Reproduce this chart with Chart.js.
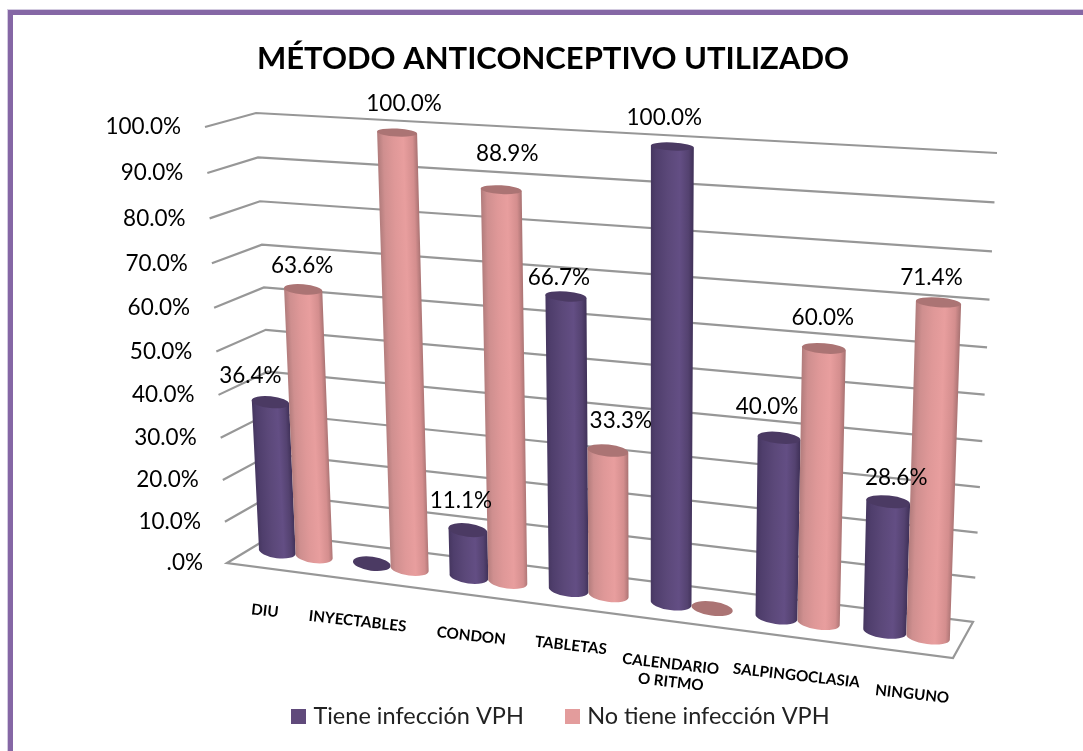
<!DOCTYPE html>
<html>
<head>
<meta charset="utf-8">
<style>html,body{margin:0;padding:0;background:#fff;overflow:hidden}#wrap{position:absolute;left:0;top:0;width:1083px;height:751px}</style>
<script src="https://cdn.jsdelivr.net/npm/chart.js@4/dist/chart.umd.min.js"></script>
</head>
<body>
<div id="wrap"><canvas id="c" width="1083" height="751"></canvas></div>
<script>
const categories = ["DIU","INYECTABLES","CONDON","TABLETAS",["CALENDARIO","O RITMO"],"SALPINGOCLASIA","NINGUNO"];
const seriesNames = ["Tiene infección VPH","No tiene infección VPH"];
const tieneVPH = [36.4,0,11.1,66.7,100,40,28.6];
const noTieneVPH = [63.6,100,88.9,33.3,0,60,71.4];
const yTickStep = 10;

/* layout of the perspective drawing (not data) */
const FONT = 'Lato, "Open Sans", sans-serif';
const persp = 0.1, vBow = 0.06;
const wall = {
  frontL:[[227,563],[205,127]], backL:[[275,534],[256,113]],
  backR:[[973,622],[997,153]], frontR0:[953,658]
};
const barPlane = { base:[[249,547.5],[962,641.5]], top:[[228,124],[978.5,162]] };
const catNudge = [[-14,41],[-25,38],[-15,39],[-19,35],[-23,40],[-1,38],[11,43]];
const labelNudge = [
  [[-20,-26],[-1,-24]],[[0,0],[7,-29]],[[-7,-29],[6,-36]],[[-7,-19],[13,-30]],
  [[-8,-29],[0,0]],[[-12,-31],[-1,-31]],[[8,-24],[-7,-25]]
];
const ramps = {
  "#604a7b":{stops:[[0,"#45365f"],[.12,"#4f3e6c"],[.4,"#5b4879"],[.68,"#634e84"],[.88,"#544270"],[1,"#3f3057"]],cap:"#4b3a63"},
  "#e39c9c":{stops:[[0,"#b07b7b"],[.15,"#cf8f8f"],[.4,"#df9898"],[.65,"#e89e9e"],[.88,"#d48e8e"],[1,"#a87272"]],cap:"#ab7474"}
};

const lerp=(a,b,t)=>a+(b-a)*t;
const lerpP=(p,q,t)=>[lerp(p[0],q[0],t),lerp(p[1],q[1],t)];
const warpU=u=>u/(1+persp*(1-u));
const bowV=v=>v-vBow*v*(1-v);
function planePoint(u,v){
  const w=warpU(u), f=bowV(v);
  const b=lerpP(barPlane.base[0],barPlane.base[1],w), t=lerpP(barPlane.top[0],barPlane.top[1],w);
  return lerpP(b,t,f);
}
const wallPoint=(edge,v)=>lerpP(edge[0],edge[1],bowV(v));
function toUV(chart,px,py){
  const xs=chart.scales.x, ys=chart.scales.y;
  return [(px-xs.left)/xs.width,(ys.bottom-py)/(ys.bottom-ys.top)];
}

Chart.BarElement.prototype.draw=function(ctx){
  const chart=Chart.getChart(ctx.canvas);
  const [u,v]=toUV(chart,this.x,this.y);
  const du=this.width/chart.scales.x.width/2;
  const ramp=ramps[this.options.backgroundColor];
  const ring=(vv,ry)=>{
    const L=planePoint(u-du,vv),R=planePoint(u+du,vv),C=planePoint(u,vv);
    return {L,R,C,rx:Math.hypot(R[0]-L[0],R[1]-L[1])/2,ry,ang:Math.atan2(R[1]-L[1],R[0]-L[0])};
  };
  const B=ring(0,7), T=ring(v,lerp(7,4,v));
  ctx.save();
  if(v>0.001){
    const s=(T.C[0]-B.C[0])/(T.C[1]-B.C[1]), y0=B.C[1];
    ctx.transform(1,0,s,1,-s*y0,0);
    const un=p=>[p[0]-s*(p[1]-y0),p[1]];
    const r=Math.max(B.rx,T.rx);
    const g=ctx.createLinearGradient(B.C[0]-r,0,B.C[0]+r,0);
    ramp.stops.forEach(st=>g.addColorStop(st[0],st[1]));
    const tl=un(T.L),tr=un(T.R),bl=un(B.L),bc=un(B.C),tc=un(T.C);
    ctx.beginPath();
    ctx.moveTo(tl[0],tl[1]);
    ctx.lineTo(bl[0],bl[1]);
    ctx.ellipse(bc[0],bc[1],B.rx,B.ry,B.ang,Math.PI,0,true);
    ctx.lineTo(tr[0],tr[1]);
    ctx.closePath();
    ctx.fillStyle=g; ctx.fill();
    ctx.beginPath();
    ctx.ellipse(tc[0],tc[1],T.rx,T.ry,T.ang,0,Math.PI*2);
    ctx.fillStyle=ramp.cap; ctx.fill();
  } else {
    ctx.beginPath();
    ctx.ellipse(B.C[0],B.C[1],B.rx,B.ry,B.ang,0,Math.PI*2);
    ctx.fillStyle=ramp.cap; ctx.fill();
  }
  ctx.restore();
};

function swatch(color){
  const s=document.createElement('canvas'); s.width=15; s.height=15;
  const g=s.getContext('2d'); g.fillStyle=color; g.fillRect(0,0,15,15);
  return s;
}

const scene={
  id:'scene',
  afterLayout(chart){
    const t=chart.titleBlock,l=chart.legend;
    const tc=(t.left+t.right)/2; t.left+=553-tc; t.right+=553-tc; t.top=3;
    const lc=(l.left+l.right)/2, h=l.bottom-l.top;
    l.left+=562.4-lc; l.right+=562.4-lc; l.top=660; l.bottom=660+h;
  },
  beforeDraw(chart){
    const c=chart.ctx;
    c.save();
    c.fillStyle='#fff'; c.fillRect(0,0,chart.width,chart.height);
    c.fillStyle='#d3cbe0';
    c.fillRect(7,9,chart.width,1); c.fillRect(7,9,1,chart.height);
    c.fillStyle='#8567a5';
    c.fillRect(8,10,chart.width,5); c.fillRect(8,10,5,chart.height);
    c.restore();
  },
  beforeDatasetsDraw(chart){
    const c=chart.ctx, ys=chart.scales.y, xs=chart.scales.x;
    c.save();
    c.strokeStyle='#979797'; c.lineWidth=2.2; c.lineJoin='miter';
    ys.ticks.forEach(tk=>{
      const v=tk.value/ys.max;
      const a=wallPoint(wall.frontL,v),b=wallPoint(wall.backL,v),d=wallPoint(wall.backR,v);
      c.beginPath(); c.moveTo(a[0],a[1]); c.lineTo(b[0],b[1]); c.lineTo(d[0],d[1]);
      if(tk.value===0){ c.lineTo(wall.frontR0[0],wall.frontR0[1]); c.closePath(); }
      c.stroke();
      c.fillStyle='#000'; c.font='22.5px '+FONT; c.textAlign='right'; c.textBaseline='middle';
      c.fillText((tk.value===0?'':tk.value.toFixed(0))+'.0%',a[0]-24,a[1]);
    });
    c.fillStyle='#000'; c.font='bold 15.2px '+FONT; c.textAlign='center'; c.textBaseline='middle';
    const fl=wall.frontL[0], fr=wall.frontR0, ang=Math.atan2(fr[1]-fl[1],fr[0]-fl[0])*0.85;
    categories.forEach((cat,i)=>{
      const u=(xs.getPixelForTick(i)-xs.left)/xs.width;
      const p=lerpP(fl,fr,u), lines=Array.isArray(cat)?cat:[cat];
      lines.forEach((ln,k)=>{
        c.save();
        c.translate(p[0]+catNudge[i][0],p[1]+catNudge[i][1]+k*18);
        c.rotate(ang);
        c.fillText(ln,0,0);
        c.restore();
      });
    });
    c.restore();
    /* first series sits behind the second one in the 3D view */
    chart.getDatasetMeta(0).controller.draw();
  },
  beforeDatasetDraw(chart,args){
    if(args.index===0) return false;
  },
  afterDatasetsDraw(chart){
    const c=chart.ctx;
    c.save();
    c.fillStyle='#000'; c.font='22.5px '+FONT; c.textAlign='center'; c.textBaseline='middle';
    chart.data.datasets.forEach((ds,di)=>{
      chart.getDatasetMeta(di).data.forEach((el,i)=>{
        const val=ds.data[i];
        if(!val) return;
        const [u,v]=toUV(chart,el.x,el.y);
        const p=planePoint(u,v), n=labelNudge[i][di];
        c.fillText(val.toFixed(1)+'%',p[0]+n[0],p[1]+n[1]);
      });
    });
    c.restore();
  }
};

new Chart(document.getElementById('c'),{
  type:'bar',
  data:{labels:categories,datasets:[
    {label:seriesNames[0],data:tieneVPH,backgroundColor:"#604a7b",clip:false},
    {label:seriesNames[1],data:noTieneVPH,backgroundColor:"#e39c9c",clip:false}
  ]},
  options:{
    responsive:false,animation:false,
    layout:{padding:{left:227,right:130,top:0,bottom:80}},
    datasets:{bar:{categoryPercentage:0.785,barPercentage:1}},
    plugins:{
      title:{display:true,text:"MÉTODO ANTICONCEPTIVO UTILIZADO",color:'#000',font:{family:FONT,size:31,weight:'bold'},padding:{top:37,bottom:53}},
      legend:{position:'bottom',labels:{
        usePointStyle:true,pointStyleWidth:6.5,boxHeight:15,color:'#222',padding:45,font:{family:FONT,size:23.5},
        generateLabels:ch=>Chart.defaults.plugins.legend.labels.generateLabels(ch).map(it=>({...it,pointStyle:swatch(it.fillStyle)}))
      }},
      tooltip:{enabled:false}
    },
    scales:{
      x:{ticks:{display:false},grid:{display:false},border:{display:false}},
      y:{min:0,max:100,ticks:{display:false,stepSize:yTickStep},grid:{display:false},border:{display:false}}
    }
  },
  plugins:[scene]
});
</script>
</body>
</html>
